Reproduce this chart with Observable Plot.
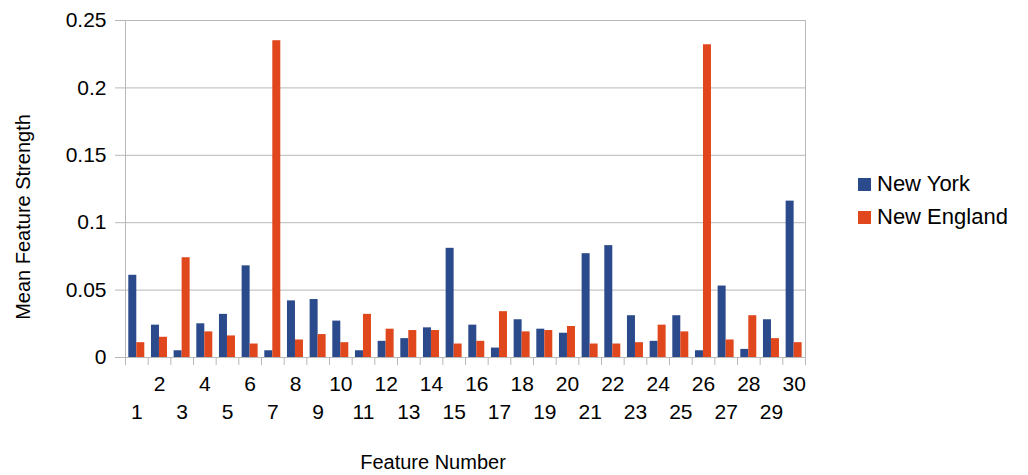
<!DOCTYPE html>
<html>
<head>
<meta charset="utf-8">
<script src="https://cdn.jsdelivr.net/npm/d3@7"></script>
<script src="https://cdn.jsdelivr.net/npm/@observablehq/plot@0.6"></script>
<style>
  html, body { margin: 0; padding: 0; background: #fff; }
  #wrap { position: relative; width: 1028px; height: 475px; font-family: "Liberation Sans", Arial, Helvetica, sans-serif; color: #000; }
  #chart svg { display: block; }
  .lbl { position: absolute; font-size: 20px; white-space: nowrap; line-height: 1; }
  .legend { position: absolute; left: 858px; font-size: 22px; line-height: 1; white-space: nowrap; display: flex; align-items: center; }
  .legend .sw { width: 13px; height: 13px; margin-right: 6px; display: inline-block; }
</style>
</head>
<body>
<div id="wrap">
  <div id="chart"></div>
  <div class="lbl" id="ylabel" style="left:23px; top:217px; transform: translate(-50%,-50%) rotate(-90deg);">Mean Feature Strength</div>
  <div class="lbl" id="xlabel" style="left:433px; top:452px; transform: translateX(-50%);">Feature Number</div>
  <div id="legend"></div>
</div>
<script>
const features = d3.range(1, 31);
const seriesNames = ["New York", "New England"];
const seriesColors = ["#2b4a8b", "#e0471c"];
const newYork = [0.061, 0.024, 0.005, 0.025, 0.032, 0.068, 0.005, 0.042, 0.043, 0.027,
                 0.005, 0.012, 0.014, 0.022, 0.081, 0.024, 0.007, 0.028, 0.021, 0.018,
                 0.077, 0.083, 0.031, 0.012, 0.031, 0.005, 0.053, 0.006, 0.028, 0.116];
const newEngland = [0.011, 0.015, 0.074, 0.019, 0.016, 0.010, 0.235, 0.013, 0.017, 0.011,
                    0.032, 0.021, 0.020, 0.020, 0.010, 0.012, 0.034, 0.019, 0.020, 0.023,
                    0.010, 0.010, 0.011, 0.024, 0.019, 0.232, 0.013, 0.031, 0.014, 0.011];
const yTicks = [0, 0.05, 0.1, 0.15, 0.2, 0.25];
const yTickLabels = ["0", "0.05", "0.1", "0.15", "0.2", "0.25"];

const nyData = features.map((f, i) => ({feature: f, series: seriesNames[0], value: newYork[i]}));
const neData = features.map((f, i) => ({feature: f, series: seriesNames[1], value: newEngland[i]}));

const W = 1028, H = 475;
const mL = 125, mR = 223, mT = 20, mB = 118;
const bw = (W - mL - mR) / features.length;
const grid = "#b8b8b8";

const plot = Plot.plot({
  width: W,
  height: H,
  marginLeft: mL,
  marginRight: mR,
  marginTop: mT,
  marginBottom: mB,
  style: {fontFamily: "'Liberation Sans', Arial, Helvetica, sans-serif", fontSize: "21px", color: "#000", background: "#fff"},
  x: {type: "band", domain: features, padding: 0, round: false, label: null},
  y: {domain: [0, 0.25], label: null},
  color: {domain: seriesNames, range: seriesColors},
  marks: [
    Plot.gridY(yTicks, {stroke: grid, strokeOpacity: 1}),
    Plot.frame({stroke: grid, strokeOpacity: 1}),
    Plot.axisY({ticks: yTicks, tickFormat: (d) => yTickLabels[yTicks.indexOf(d)], tickSize: 10, tickPadding: 9, stroke: grid, strokeOpacity: 1, label: null, fontSize: 21}),
    Plot.barY(nyData, {x: "feature", y: "value", fill: "series", insetLeft: 3.3, insetRight: bw - 11.3}),
    Plot.barY(neData, {x: "feature", y: "value", fill: "series", insetLeft: 11.3, insetRight: bw - 19.3}),
    Plot.axisX({ticks: features, tickSize: 8, tickFormat: () => "", dx: -bw / 2, stroke: grid, strokeOpacity: 1, label: null}),
    Plot.axisX({ticks: [features[features.length - 1]], tickSize: 8, tickFormat: () => "", dx: bw / 2, stroke: grid, strokeOpacity: 1, label: null}),
    Plot.axisX({ticks: features.filter(d => d % 2 === 0), tickSize: 0, tickPadding: 19, label: null, fontSize: 21}),
    Plot.axisX({ticks: features.filter(d => d % 2 === 1), tickSize: 0, tickPadding: 47, label: null, fontSize: 21})
  ]
});
document.getElementById("chart").appendChild(plot);

const legend = document.getElementById("legend");
const legendTops = [173, 206];
seriesNames.forEach((name, i) => {
  const row = document.createElement("div");
  row.className = "legend";
  row.style.top = legendTops[i] + "px";
  const sw = document.createElement("span");
  sw.className = "sw";
  sw.style.background = seriesColors[i];
  row.appendChild(sw);
  row.appendChild(document.createTextNode(name));
  legend.appendChild(row);
});
</script>
</body>
</html>
